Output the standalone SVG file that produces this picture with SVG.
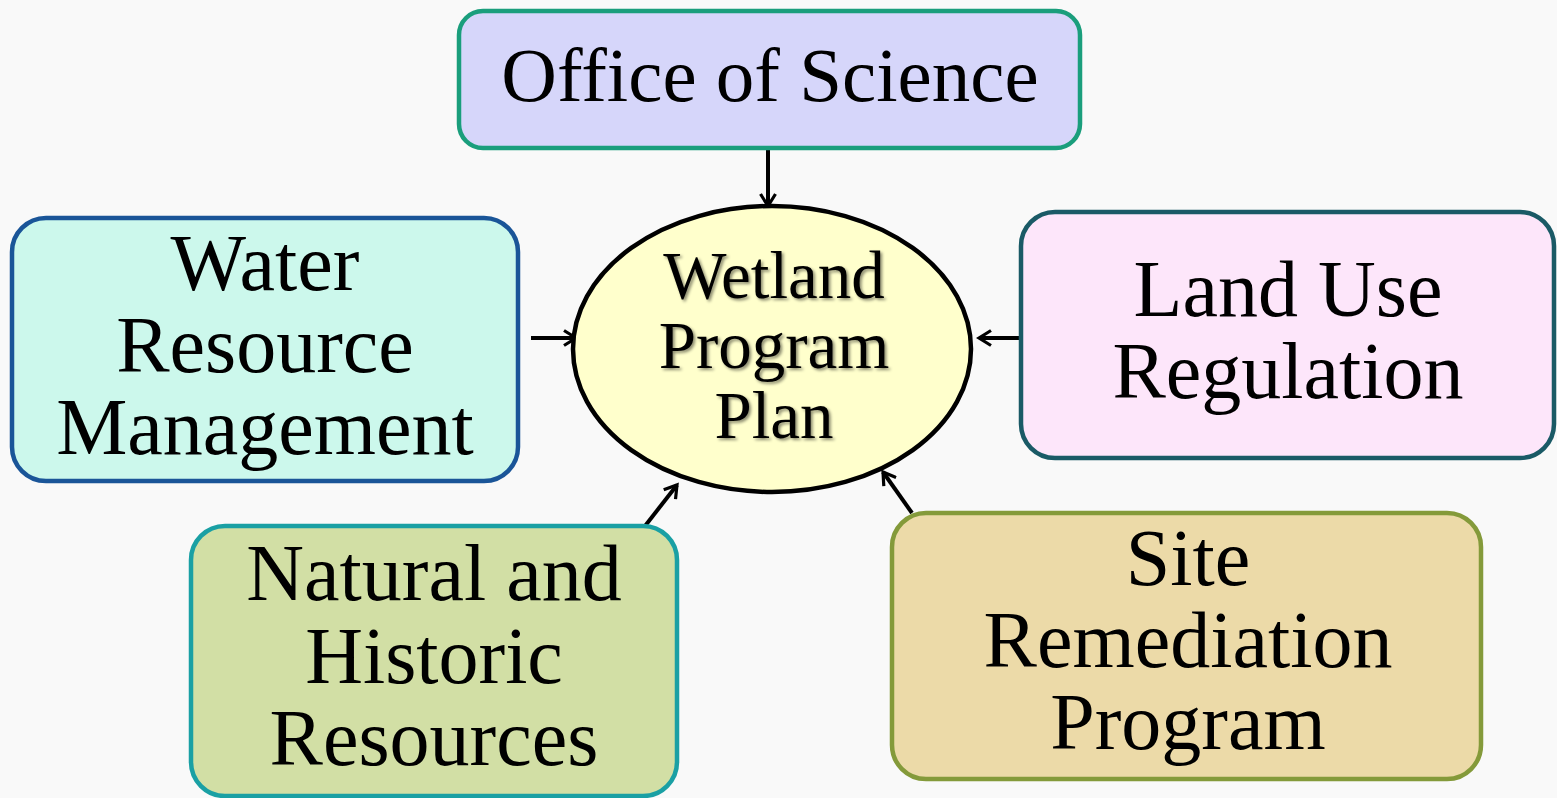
<svg xmlns="http://www.w3.org/2000/svg" width="1557" height="798" viewBox="0 0 1557 798">
<style>
.box{stroke-width:4.5}
.t{font-family:"Liberation Serif","Times New Roman",serif;font-size:80px;fill:#000;text-anchor:middle}
.c{font-family:"Liberation Serif","Times New Roman",serif;font-size:67px;fill:#000;text-anchor:middle;filter:url(#sh)}
.con{stroke:#000;stroke-width:4;fill:none;marker-end:url(#ah)}
</style>
<defs>
<marker id="ah" viewBox="0 0 18 18" refX="15" refY="9" markerWidth="18" markerHeight="18" markerUnits="userSpaceOnUse" orient="auto">
<path d="M3,1.5 L15,9 L3,16.5" fill="none" stroke="#000" stroke-width="3.2"/>
</marker>
<filter id="sh" x="-10%" y="-20%" width="130%" height="150%">
<feDropShadow dx="2" dy="2" stdDeviation="1.5" flood-color="#000" flood-opacity="0.45"/>
</filter>
</defs>
<rect width="1557" height="798" fill="#f9f9f9"/>
<g id="connectors">
<line class="con" x1="768" y1="148" x2="768" y2="206"/>
<line class="con" x1="531" y1="338" x2="576" y2="338"/>
<line class="con" x1="1024" y1="338" x2="979" y2="338"/>
<line class="con" x1="645" y1="526" x2="677" y2="485"/>
<line class="con" x1="912" y1="513" x2="883" y2="472"/>
</g>
<g id="office">
<rect class="box" x="459" y="11" width="621" height="137" rx="24" fill="#d6d6fa" stroke="#1a9e7c"/>
<text class="t" x="770" y="101" style="font-size:77px">Office of Science</text>
</g>
<g id="wetland">
<ellipse cx="772" cy="349" rx="199" ry="143" fill="#ffffcc" stroke="#000" stroke-width="4.5"/>
<text class="c" x="774" y="298">Wetland</text>
<text class="c" x="774" y="368">Program</text>
<text class="c" x="774" y="438">Plan</text>
</g>
<g id="water">
<rect class="box" x="12" y="218" width="506" height="263" rx="34" fill="#ccf8ec" stroke="#1a5598"/>
<text class="t" x="265" y="290">Water</text>
<text class="t" x="265" y="372">Resource</text>
<text class="t" x="265" y="454">Management</text>
</g>
<g id="landuse">
<rect class="box" x="1021" y="212" width="533" height="246" rx="34" fill="#fde6fa" stroke="#1a5a66"/>
<text class="t" x="1288" y="316">Land Use</text>
<text class="t" x="1288" y="398">Regulation</text>
</g>
<g id="natural">
<rect class="box" x="191" y="526" width="486" height="270" rx="34" fill="#d2dfa5" stroke="#1aa0a4"/>
<text class="t" x="434" y="600">Natural and</text>
<text class="t" x="434" y="683">Historic</text>
<text class="t" x="434" y="765">Resources</text>
</g>
<g id="site">
<rect class="box" x="892" y="513" width="589" height="266" rx="34" fill="#ecdaa8" stroke="#849a3a"/>
<text class="t" x="1188" y="585">Site</text>
<text class="t" x="1188" y="667">Remediation</text>
<text class="t" x="1188" y="749">Program</text>
</g>
</svg>
